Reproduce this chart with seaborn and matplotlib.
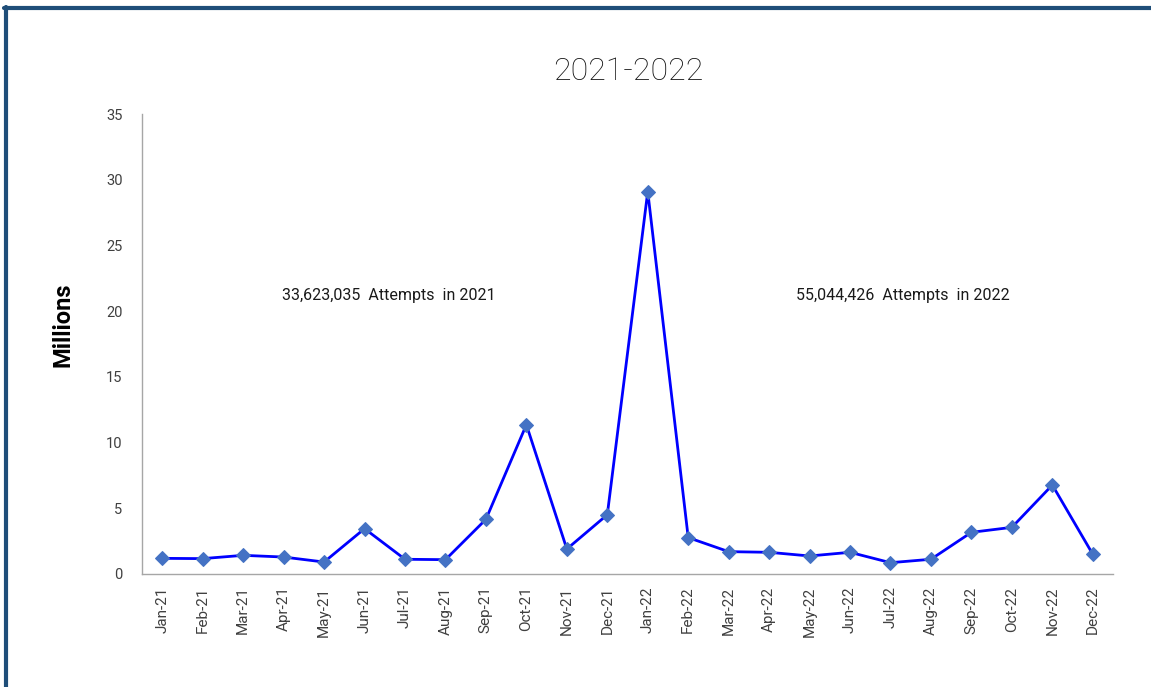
import matplotlib
matplotlib.use("Agg")
import matplotlib.pyplot as plt
import seaborn as sns
import pandas as pd
from matplotlib.lines import Line2D

# Monthly login attempts (millions)
months = ["Jan-21", "Feb-21", "Mar-21", "Apr-21", "May-21", "Jun-21",
          "Jul-21", "Aug-21", "Sep-21", "Oct-21", "Nov-21", "Dec-21",
          "Jan-22", "Feb-22", "Mar-22", "Apr-22", "May-22", "Jun-22",
          "Jul-22", "Aug-22", "Sep-22", "Oct-22", "Nov-22", "Dec-22"]
attempts = [1.19, 1.17, 1.42, 1.29, 0.91, 3.45, 1.12, 1.09, 4.16, 11.36, 1.90, 4.51,
            29.10, 2.77, 1.70, 1.65, 1.37, 1.65, 0.86, 1.12, 3.17, 3.55, 6.77, 1.50]
yticks = [0, 5, 10, 15, 20, 25, 30, 35]
title = "2021-2022"
ylabel = "Millions"
notes = ["33,623,035  Attempts  in 2021", "55,044,426  Attempts  in 2022"]
note_pos = [(5.6, 21.2), (18.3, 21.2)]

df = pd.DataFrame({"month": months, "attempts": attempts})

sns.set_theme(style="white")
plt.rcParams["font.family"] = ["Roboto", "DejaVu Sans"]

fig = plt.figure(figsize=(11.51, 6.87), dpi=100)
ax = fig.add_axes([0.1234, 0.1645, 0.8436, 0.6695])

sns.lineplot(data=df, x="month", y="attempts", ax=ax, sort=False,
             color="#0000FF", linewidth=2.0, marker="D", markersize=7,
             markerfacecolor="#4472C4", markeredgecolor="#4472C4")

ax.set_xlim(-0.5, len(months) - 0.5)
ax.set_ylim(0, 35)
ax.set_yticks(yticks)
ax.set_yticklabels([str(t) for t in yticks], fontsize=10.5, color="#404040")
ax.set_xticks(range(len(months)))
ax.set_xticklabels(months, rotation=90, fontsize=11, color="#404040")
ax.tick_params(axis="y", length=0, pad=14)
ax.tick_params(axis="x", length=0, pad=9)

for side in ["top", "right"]:
    ax.spines[side].set_visible(False)
for side in ["left", "bottom"]:
    ax.spines[side].set_color("#A6A6A6")
    ax.spines[side].set_linewidth(1.0)

ax.set_xlabel("")
ax.set_ylabel("")

fig.text(0.0545, 0.527, ylabel, rotation=90, ha="center", va="center",
         fontsize=17, fontweight="bold", color="black")
fig.text(0.546, 0.896, title, ha="center", va="center",
         fontsize=23, fontweight="light", color="#111111")

for txt, (xp, yp) in zip(notes, note_pos):
    ax.text(xp, yp, txt, ha="center", va="center", fontsize=11.5, color="#1a1a1a")

# Frame accents along the top and left edges
fig.add_artist(Line2D([0.0035, 1.0], [0.9883, 0.9883], transform=fig.transFigure,
                      color="#1F4E79", linewidth=3))
fig.add_artist(Line2D([0.0052, 0.0052], [0.0, 0.9905], transform=fig.transFigure,
                      color="#1F4E79", linewidth=3))

fig.savefig("out.png", dpi=100)
